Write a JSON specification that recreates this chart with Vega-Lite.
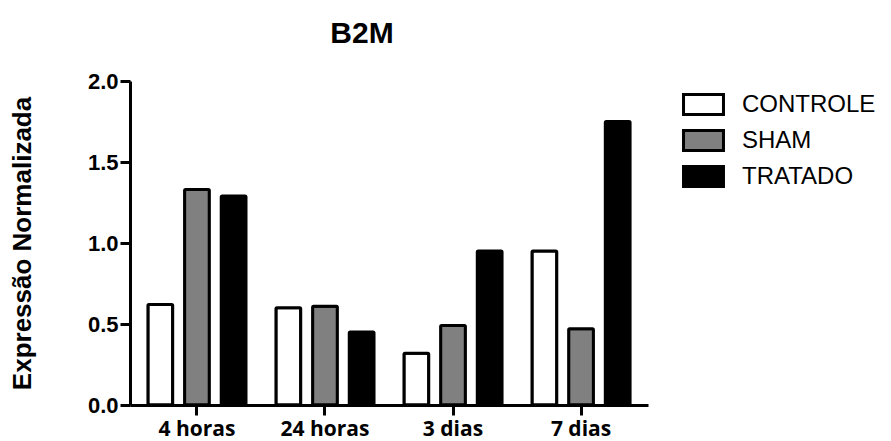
{
  "$schema": "https://vega.github.io/schema/vega-lite/v6.json",
  "width": 518,
  "height": 324,
  "autosize": {"type": "none"},
  "padding": {"left": 130, "top": 81, "right": 243, "bottom": 36},
  "background": "white",
  "title": {"text": "B2M", "font": "Liberation Sans", "fontSize": 30, "fontWeight": "bold", "color": "black", "anchor": "middle", "dx": -27, "baseline": "alphabetic", "offset": -3},
  "data": {"values": [
    {"tempo": "4 horas", "grupo": "CONTROLE", "valor": 0.62},
    {"tempo": "4 horas", "grupo": "SHAM", "valor": 1.33},
    {"tempo": "4 horas", "grupo": "TRATADO", "valor": 1.29},
    {"tempo": "24 horas", "grupo": "CONTROLE", "valor": 0.60},
    {"tempo": "24 horas", "grupo": "SHAM", "valor": 0.61},
    {"tempo": "24 horas", "grupo": "TRATADO", "valor": 0.45},
    {"tempo": "3 dias", "grupo": "CONTROLE", "valor": 0.32},
    {"tempo": "3 dias", "grupo": "SHAM", "valor": 0.49},
    {"tempo": "3 dias", "grupo": "TRATADO", "valor": 0.95},
    {"tempo": "7 dias", "grupo": "CONTROLE", "valor": 0.95},
    {"tempo": "7 dias", "grupo": "SHAM", "valor": 0.47},
    {"tempo": "7 dias", "grupo": "TRATADO", "valor": 1.75}
  ]},
  "mark": {"type": "bar", "stroke": "black", "strokeWidth": 3, "strokeJoin": "round", "cornerRadius": 1},
  "encoding": {
    "x": {"field": "tempo", "type": "nominal", "sort": ["4 horas", "24 horas", "3 dias", "7 dias"],
      "scale": {"paddingInner": 0.234, "paddingOuter": 0.14},
      "axis": {"title": null, "labelAngle": 0, "labelFont": "Open Sans", "labelFontSize": 21, "labelFontWeight": "bold", "labelColor": "black", "labelPadding": 3, "domainColor": "black", "domainWidth": 3, "tickColor": "black", "tickWidth": 3, "tickSize": 10}},
    "xOffset": {"field": "grupo", "type": "nominal", "sort": ["CONTROLE", "SHAM", "TRATADO"], "scale": {"paddingInner": 0.324, "paddingOuter": 0}},
    "y": {"field": "valor", "type": "quantitative", "scale": {"domain": [0, 2]},
      "axis": {"title": "Expressão Normalizada", "titleFont": "Liberation Sans", "titleFontSize": 26, "titleFontWeight": "bold", "titleColor": "black", "titlePadding": 52, "values": [0, 0.5, 1, 1.5, 2], "format": ".1f", "labelFont": "Liberation Sans", "labelFontSize": 22, "labelFontWeight": "bold", "labelColor": "black", "labelPadding": 2, "domainColor": "black", "domainWidth": 3, "tickColor": "black", "tickWidth": 3, "tickSize": 10, "grid": false}},
    "fill": {"field": "grupo", "type": "nominal", "sort": ["CONTROLE", "SHAM", "TRATADO"],
      "scale": {"domain": ["CONTROLE", "SHAM", "TRATADO"], "range": ["white", "#808080", "black"]},
      "legend": {"title": null, "orient": "none", "legendX": 553.5, "legendY": 3.5, "symbolType": "M-1.08,-0.54H1.08V0.54H-1.08Z", "symbolSize": 1369, "symbolStrokeColor": "black", "symbolStrokeWidth": 3, "symbolOpacity": 1, "labelFont": "Liberation Sans", "labelFontSize": 24, "labelColor": "black", "rowPadding": 0, "labelOffset": 18.5, "padding": 0}}
  },
  "config": {"view": {"stroke": null}, "axis": {"grid": false}}
}
